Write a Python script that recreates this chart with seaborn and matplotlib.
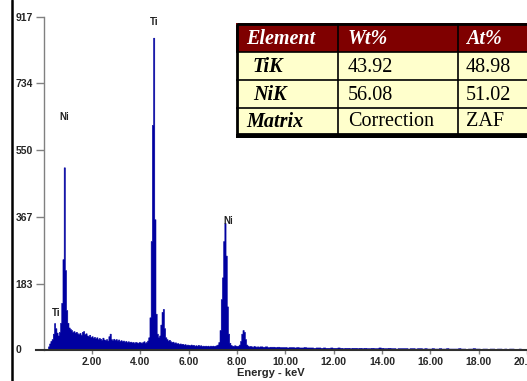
import numpy as np
import pandas as pd
import seaborn as sns
import matplotlib.pyplot as plt
from matplotlib.lines import Line2D
from matplotlib.patches import Rectangle

# EDS spectrum: channel energies (keV) and counts
energy_fine = np.linspace(0.20, 8.95, 176)
energy_tail = np.linspace(9.0, 20.1, 112)

counts_fine = [
    10, 18, 25, 30, 45, 74, 60, 48, 40, 50, 75, 130, 250, 503, 220, 110, 75, 62, 58, 55,
    50, 52, 48, 50, 46, 44, 47, 42, 50, 52, 44, 46, 40, 38, 42, 36, 38, 34, 36, 32,
    35, 30, 33, 31, 28, 34, 29, 27, 30, 26, 38, 45, 30, 27, 31, 28, 30, 26, 29, 25,
    27, 24, 26, 23, 25, 22, 24, 22, 23, 21, 22, 20, 22, 21, 20, 22, 21, 20, 22, 24,
    20, 22, 26, 35, 90, 300, 620, 860, 360, 100, 45, 35, 40, 70, 105, 113, 60, 35, 30, 26,
    28, 24, 22, 23, 20, 21, 18, 19, 17, 18, 16, 17, 15, 16, 14, 15, 14, 13, 15, 13,
    14, 12, 13, 12, 14, 12, 13, 11, 12, 11, 12, 11, 12, 10, 12, 11, 12, 11, 12, 13,
    15, 22, 55, 140, 200, 300, 350, 260, 120, 45, 20, 14, 12, 11, 13, 12, 11, 12, 15, 25,
    45, 55, 50, 30, 15, 12, 10, 11, 10, 9, 11, 10, 9, 10, 9, 10,
]
counts_tail = [
    10, 9, 10, 8, 9, 9, 8, 9, 8, 8,
    8, 7, 8, 8, 7, 8, 7, 7, 8, 7,
    7, 7, 6, 7, 7, 6, 7, 6, 6, 7,
    6, 6, 7, 6, 5, 6, 6, 5, 6, 6,
    5, 6, 5, 6, 5, 5, 6, 5, 5, 7,
    6, 5, 5, 6, 5, 5, 4, 5, 5, 5,
    5, 4, 5, 5, 4, 5, 5, 4, 5, 4,
    4, 5, 4, 4, 5, 4, 4, 5, 4, 4,
    4, 4, 5, 4, 4, 3, 4, 4, 5, 4,
    4, 3, 4, 4, 3, 4, 4, 3, 4, 4,
    3, 4, 3, 4, 4, 3, 3, 4, 3, 3,
    3, 3,
]

y_ticks = [0, 183, 367, 550, 734, 917]
x_ticks = [2, 4, 6, 8, 10, 12, 14, 16, 18, 20]

peak_names = ["Ni", "Ti", "Ni", "Ti"]
peak_energy = [0.85, 4.58, 7.62, 0.53]
peak_level = [642, 903, 356, 102]

table_header = ["Element", "Wt%", "At%"]
table_element = ["TiK", "NiK", "Matrix"]
table_wt = ["43.92", "56.08", "Correction"]
table_at = ["48.98", "51.02", "ZAF"]

df = pd.DataFrame({
    "energy": np.concatenate([energy_fine, energy_tail]),
    "counts": counts_fine + counts_tail,
})
e = df["energy"].to_numpy()
edges = np.concatenate([[e[0] - (e[1] - e[0]) / 2], (e[:-1] + e[1:]) / 2,
                        [e[-1] + (e[-1] - e[-2]) / 2]])

sns.set_style("white")
plt.rcParams["font.family"] = ["Liberation Sans", "DejaVu Sans"]

W, H = 527, 381
fig = plt.figure(figsize=(W / 100, H / 100), dpi=100)
ax = fig.add_axes([36 / W, 31 / H, 491 / W, 333 / H])

sns.histplot(data=df, x="energy", weights="counts", bins=edges.tolist(),
             element="step", fill=True, color="#0000A0", alpha=1, linewidth=0.4,
             ax=ax)

ax.set_xlim(-0.32, 19.6)
ax.set_ylim(0, 917)
ax.spines["top"].set_visible(False)
ax.spines["right"].set_visible(False)
ax.spines["left"].set_position(("data", 0))
ax.spines["left"].set_color("#808080")
ax.spines["left"].set_linewidth(1.0)
ax.spines["bottom"].set_color("#303030")
ax.spines["bottom"].set_linewidth(1.5)

ax.set_yticks(y_ticks[1:])
ax.set_yticklabels([str(v) for v in y_ticks[1:]], fontsize=7.5, fontweight="bold")
ax.tick_params(axis="y", length=6, width=1, color="#808080", pad=14.3, left=True)
for t in ax.get_yticklabels():
    t.set_horizontalalignment("left")
ax.text(-20 / 491, 0, "0", transform=ax.get_yaxis_transform(), ha="left",
        va="center", fontsize=7.5, fontweight="bold")

ax.set_xticks(x_ticks)
ax.set_xticklabels([f"{v:.2f}" for v in x_ticks], fontsize=7.5, fontweight="bold")
ax.tick_params(axis="x", length=3, width=1, color="#808080", pad=2, bottom=True)
ax.set_xlabel("Energy - keV", fontsize=8, fontweight="bold", labelpad=0)
ax.xaxis.set_label_coords((271 - 36) / 491, -0.055)
ax.set_ylabel("")

for name, x, y in zip(peak_names, peak_energy, peak_level):
    ax.text(x, y, name, ha="center", va="center", fontsize=7, fontweight="bold",
            color="#202020", zorder=5)

# left black border of the image
fig.add_artist(Line2D([11.5 / W, 11.5 / W], [0, 1], color="black", lw=1.8,
                      transform=fig.transFigure))

# quantification table
tx0, ty0 = 236, 23
tw, th = 309, 115
tab = fig.add_axes([tx0 / W, (H - ty0 - th) / H, tw / W, th / H])
tab.set_xlim(0, tw)
tab.set_ylim(th, 0)
tab.axis("off")
col_edges = [0, 102, 222, tw]
row_edges = [0, 29, 57, 85, 111]
text_x = [10, 112, 230]
tab.add_patch(Rectangle((0, 0), tw, row_edges[-1], facecolor="#FFFFCC",
                        edgecolor="none"))
tab.add_patch(Rectangle((0, 0), tw, row_edges[1], facecolor="#7F0000",
                        edgecolor="none"))
for r in row_edges[1:-1]:
    tab.plot([0, tw], [r, r], color="black", lw=1.2)
for c in col_edges[1:-1]:
    tab.plot([c, c], [0, row_edges[-1]], color="black", lw=1.2)
tab.add_patch(Rectangle((1, 1), tw, row_edges[-1] - 1, facecolor="none",
                        edgecolor="black", lw=2.0))
tab.add_patch(Rectangle((0, row_edges[-1]), tw, th - row_edges[-1],
                        facecolor="black", edgecolor="none"))

serif = ["Liberation Serif", "DejaVu Serif"]
for j, h in enumerate(table_header):
    tab.text(text_x[j], (row_edges[0] + row_edges[1]) / 2 + 1, h, color="white",
             family=serif, fontsize=14.5, fontweight="bold", fontstyle="italic",
             ha="left", va="center")
for i in range(3):
    yc = (row_edges[i + 1] + row_edges[i + 2]) / 2 + 1
    indent = 7 if i < 2 else 0
    tab.text(text_x[0] + indent, yc, table_element[i], color="black", family=serif,
             fontsize=14.5, fontweight="bold", fontstyle="italic", ha="left",
             va="center")
    tab.text(text_x[1], yc, table_wt[i], color="black", family=serif,
             fontsize=14.5, ha="left", va="center")
    tab.text(text_x[2], yc, table_at[i], color="black", family=serif,
             fontsize=14.5, ha="left", va="center")

fig.savefig("out.png", dpi=100)
